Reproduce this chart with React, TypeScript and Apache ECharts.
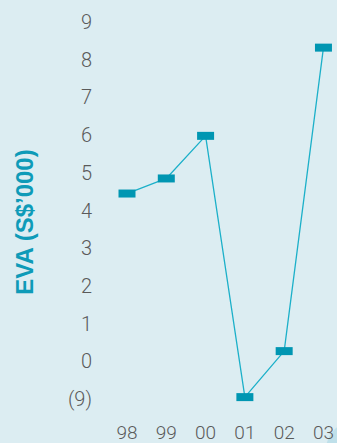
import React, { useEffect, useRef } from "react";
import * as echarts from "echarts";

const years = ["98", "99", "00", "01", "02", "03"];
const eva = [4.45, 4.85, 5.98, -0.95, 0.27, 8.32];
const yTickLabels: Record<string, string> = { "-1": "(9)" };

export default function App() {
  const ref = useRef<HTMLDivElement>(null);
  useEffect(() => {
    if (!ref.current) return;
    const chart = echarts.init(ref.current, undefined, { renderer: "svg" });
    chart.setOption({
      animation: false,
      backgroundColor: "#dcedf2",
      grid: { left: 127, right: 13, top: 22, bottom: 44, containLabel: false },
      xAxis: {
        type: "category",
        data: years,
        boundaryGap: false,
        axisLine: { show: false },
        axisTick: { show: false },
        axisLabel: {
          color: "#5a5a5a",
          fontSize: 19,
          fontFamily: "Roboto",
          fontWeight: 300,
          margin: 24,
        },
      },
      yAxis: {
        type: "value",
        min: -1,
        max: 9,
        interval: 1,
        splitLine: { show: false },
        axisLine: { show: false },
        axisTick: { show: false },
        axisLabel: {
          color: "#5a5a5a",
          fontSize: 20,
          fontFamily: "Roboto",
          fontWeight: 300,
          margin: 35,
          formatter: (v: number) => yTickLabels[String(v)] ?? String(v),
        },
      },
      graphic: [
        {
          type: "text",
          x: 24,
          y: 222,
          rotation: Math.PI / 2,
          style: {
            text: "EVA (S$’000)",
            fill: "#0e9bb8",
            font: "bold 24px 'Liberation Sans', Arial, sans-serif",
            textAlign: "center",
            textVerticalAlign: "middle",
          },
        },
        {
          type: "circle",
          shape: { cx: 355, cy: 450, r: 29 },
          style: { fill: "#bfe0ea" },
          silent: true,
        },
      ],
      series: [
        {
          type: "line",
          data: eva,
          symbol: "rect",
          symbolSize: [17, 8],
          itemStyle: { color: "#0096b2" },
          lineStyle: { color: "#1cb0c9", width: 1.3 },
        },
      ],
    });
    return () => chart.dispose();
  }, []);
  return <div ref={ref} style={{ width: 337, height: 443, position: "fixed", left: 0, top: 0 }} />;
}
